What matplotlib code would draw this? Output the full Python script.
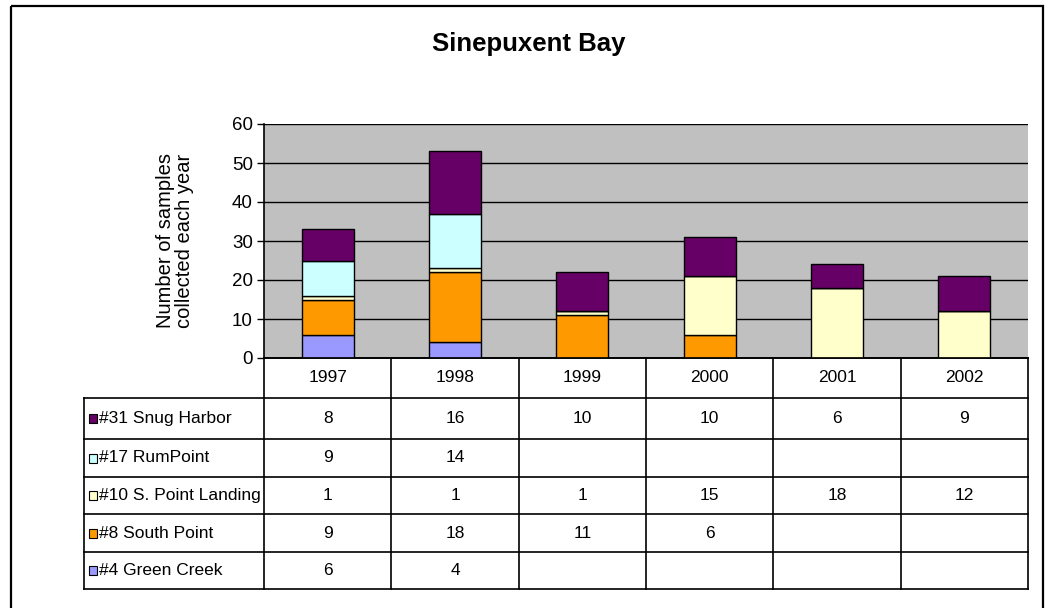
import matplotlib
matplotlib.use("Agg")
import matplotlib.pyplot as plt
import numpy as np
from matplotlib.patches import Rectangle

years = ["1997", "1998", "1999", "2000", "2001", "2002"]
# stacking order bottom -> top
green_creek = [6, 4, None, None, None, None]
south_point = [9, 18, 11, 6, None, None]
s_point_landing = [1, 1, 1, 15, 18, 12]
rum_point = [9, 14, None, None, None, None]
snug_harbor = [8, 16, 10, 10, 6, 9]

series_names = ["#4 Green Creek", "#8 South Point", "#10 S. Point Landing",
                "#17 Rum Point", "#31 Snug Harbor"]
series_vals = [green_creek, south_point, s_point_landing, rum_point, snug_harbor]
series_colors = ["#9999FF", "#FF9900", "#FFFFCC", "#CCFFFF", "#660066"]
table_labels = ["#31 Snug Harbor", "#17 RumPoint", "#10 S. Point Landing",
                "#8 South Point", "#4 Green Creek"]

plt.rcParams['font.family'] = ['Liberation Sans', 'DejaVu Sans']

W, H = 1049, 608
fig = plt.figure(figsize=(W / 100, H / 100), dpi=100)

# layout (pixels)
px_left, px_right = 264, 1028
px_top, px_bottom = 124, 358
ax = fig.add_axes([px_left / W, 1 - px_bottom / H, (px_right - px_left) / W, (px_bottom - px_top) / H])
ax.set_facecolor("#C0C0C0")
x = np.arange(len(years))
bottom = np.zeros(len(years))
for name, vals, col in zip(series_names, series_vals, series_colors):
    v = np.array([0 if a is None else a for a in vals], dtype=float)
    ax.bar(x, v, width=0.41, bottom=bottom, color=col, edgecolor="black", linewidth=1.0, zorder=3)
    bottom += v
ax.set_xlim(-0.5, len(years) - 0.5)
ax.set_ylim(0, 60)
ax.set_yticks(range(0, 61, 10))
ax.yaxis.grid(True, color="black", linewidth=1.0, zorder=1)
ax.set_axisbelow(True)
ax.set_xticks([])
ax.tick_params(axis="y", length=5, width=1, labelsize=13.5, pad=3, colors="black")
for s in ["top", "right"]:
    ax.spines[s].set_visible(False)
ax.spines["left"].set_linewidth(1.2)
ax.spines["bottom"].set_linewidth(1.2)
ax.set_ylabel("Number of samples\ncollected each year", fontsize=14.5, labelpad=27, linespacing=1.0)

# overlay for title and border
ov = fig.add_axes([0, 0, 1, 1], zorder=-1)
ov.set_xlim(0, W)
ov.set_ylim(H, 0)
ov.axis("off")
ov.add_patch(Rectangle((11, 6), 1043 - 11, 620, fill=False, edgecolor="black", linewidth=1.6))
ov.text(529, 44, "Sinepuxent Bay", ha="center", va="center", fontsize=18.5, fontweight="bold")

ov2 = fig.add_axes([0, 0, 1, 1], zorder=5)
ov2.set_xlim(0, W)
ov2.set_ylim(H, 0)
ov2.axis("off")
ov2.patch.set_alpha(0)

cols = np.linspace(px_left, px_right, len(years) + 1)
row_lines = [px_bottom, 398, 439, 477, 514, 552, 589]
tbl_left = 84
lw = 1.2
ov2.plot([px_left, px_right], [row_lines[0]] * 2, color="black", lw=lw)
for yv in row_lines[1:]:
    ov2.plot([tbl_left, px_right], [yv, yv], color="black", lw=lw)
for xv in cols:
    ov2.plot([xv, xv], [row_lines[0], row_lines[-1]], color="black", lw=lw)
ov2.plot([tbl_left, tbl_left], [row_lines[1], row_lines[-1]], color="black", lw=lw)

for i, yr in enumerate(years):
    ov2.text((cols[i] + cols[i + 1]) / 2, (row_lines[0] + row_lines[1]) / 2, yr,
             ha="center", va="center", fontsize=12.5)

rev_vals = list(reversed(series_vals))
rev_cols = list(reversed(series_colors))
for r, (lab, vals, col) in enumerate(zip(table_labels, rev_vals, rev_cols)):
    yc = (row_lines[r + 1] + row_lines[r + 2]) / 2
    ov2.add_patch(Rectangle((89, yc - 4.5), 8, 9, facecolor=col, edgecolor="black", linewidth=0.8))
    ov2.text(99, yc, lab, ha="left", va="center", fontsize=12.5)
    for i, v in enumerate(vals):
        if v is not None:
            ov2.text((cols[i] + cols[i + 1]) / 2, yc, str(v), ha="center", va="center", fontsize=12.5)

fig.savefig("out.png", dpi=100)
